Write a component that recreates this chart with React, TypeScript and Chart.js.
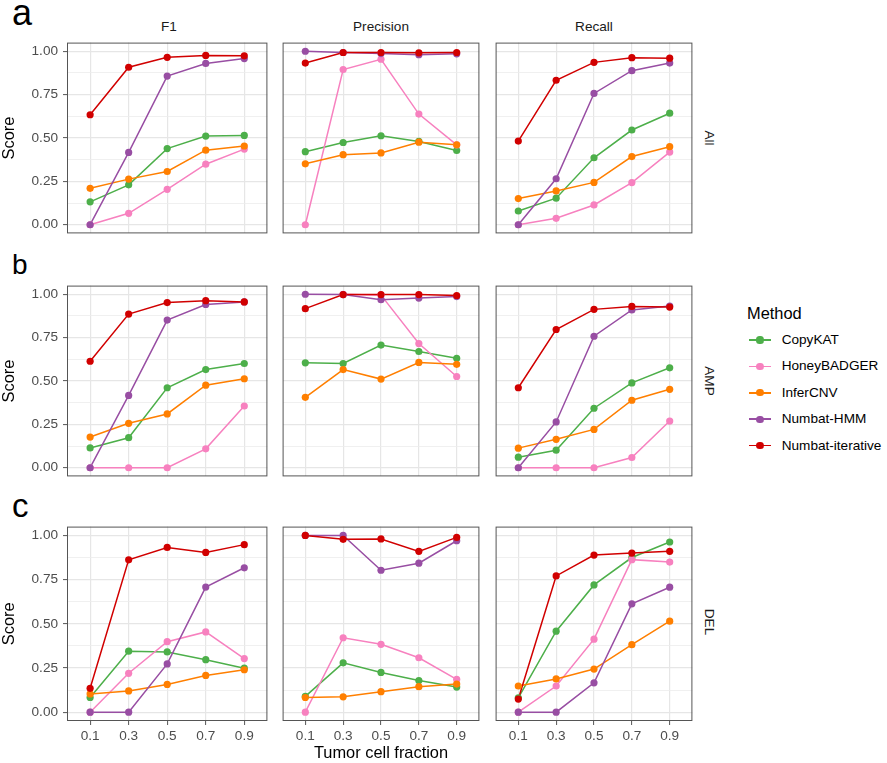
import React, { useEffect, useRef } from "react";
import { Chart, registerables } from "chart.js";

Chart.register(...registerables);

// ---------- data ----------
const fractions = [0.1, 0.3, 0.5, 0.7, 0.9];
const methods = ["CopyKAT", "HoneyBADGER", "InferCNV", "Numbat-HMM", "Numbat-iterative"];
const methodColors = ["#4DAF4A", "#F781BF", "#FF7F00", "#984EA3", "#D10000"];
const metrics = ["F1", "Precision", "Recall"];
const eventTypes = ["All", "AMP", "DEL"];
const panelLetters = ["a", "b", "c"];
const yMajorTicks = [0, 0.25, 0.5, 0.75, 1];
const yMinorTicks = [0.125, 0.375, 0.625, 0.875];

// rows of each array follow `methods`
const allF1 = [
  [0.132, 0.23, 0.439, 0.511, 0.515],
  [0, 0.066, 0.204, 0.349, 0.436],
  [0.21, 0.263, 0.307, 0.43, 0.454],
  [0, 0.417, 0.857, 0.93, 0.958],
  [0.634, 0.908, 0.965, 0.976, 0.974],
];
const allPrecision = [
  [0.421, 0.474, 0.513, 0.48, 0.428],
  [0, 0.895, 0.954, 0.638, 0.46],
  [0.351, 0.404, 0.414, 0.476, 0.461],
  [1.0, 0.993, 0.987, 0.98, 0.985],
  [0.932, 0.993, 0.993, 0.991, 0.993],
];
const allRecall = [
  [0.079, 0.153, 0.386, 0.546, 0.643],
  [0, 0.037, 0.114, 0.243, 0.419],
  [0.151, 0.195, 0.244, 0.393, 0.45],
  [0, 0.265, 0.757, 0.888, 0.932],
  [0.482, 0.833, 0.936, 0.963, 0.96],
];
const ampF1 = [
  [0.114, 0.173, 0.461, 0.566, 0.601],
  [0, 0, 0, 0.109, 0.356],
  [0.177, 0.256, 0.31, 0.476, 0.513],
  [0, 0.417, 0.851, 0.941, 0.956],
  [0.614, 0.886, 0.952, 0.963, 0.956],
];
const ampPrecision = [
  [0.605, 0.601, 0.707, 0.67, 0.631],
  [null, 1.0, 0.995, 0.716, 0.526],
  [0.406, 0.566, 0.511, 0.607, 0.596],
  [1.0, 0.998, 0.969, 0.978, 0.987],
  [0.917, 0.998, 0.998, 0.998, 0.993],
];
const ampRecall = [
  [0.061, 0.101, 0.343, 0.489, 0.576],
  [0, 0, 0, 0.059, 0.269],
  [0.113, 0.164, 0.221, 0.389, 0.452],
  [0, 0.264, 0.758, 0.91, 0.932],
  [0.461, 0.797, 0.913, 0.93, 0.926],
];
const delF1 = [
  [0.083, 0.345, 0.341, 0.297, 0.249],
  [0, 0.22, 0.399, 0.454, 0.303],
  [0.103, 0.12, 0.157, 0.208, 0.24],
  [0, 0, 0.273, 0.708, 0.817],
  [0.135, 0.862, 0.932, 0.904, 0.948],
];
const delPrecision = [
  [0.089, 0.279, 0.225, 0.179, 0.142],
  [0, 0.421, 0.384, 0.308, 0.185],
  [0.083, 0.087, 0.116, 0.144, 0.159],
  [1.0, 1.0, 0.803, 0.843, 0.97],
  [1.0, 0.978, 0.98, 0.91, 0.989],
];
const delRecall = [
  [0.081, 0.458, 0.72, 0.875, 0.963],
  [0, 0.148, 0.413, 0.863, 0.849],
  [0.148, 0.188, 0.244, 0.382, 0.515],
  [0, 0, 0.166, 0.613, 0.707],
  [0.074, 0.771, 0.889, 0.9, 0.91],
];

const panelValues = [
  [allF1, allPrecision, allRecall],
  [ampF1, ampPrecision, ampRecall],
  [delF1, delPrecision, delRecall],
];

// ---------- layout ----------
const FONT = "'Liberation Sans', Arial, Helvetica, sans-serif";
const PANEL_W = 204;
const PANEL_H = 198;
const colLefts = [67, 279, 492];
const rowTops = [39, 282, 523];
const Y_AXIS_W = 67;
const X_AXIS_H = 42;

Chart.defaults.font.family = FONT;

const isMajor = (v: number) => yMajorTicks.some((t) => Math.abs(t - v) < 1e-6);

const borderPlugin = {
  id: "panelBorder",
  afterDatasetsDraw(chart: any) {
    const { ctx, chartArea } = chart;
    ctx.save();
    ctx.strokeStyle = "#555555";
    ctx.lineWidth = 1;
    ctx.strokeRect(
      chartArea.left + 0.5,
      chartArea.top + 0.5,
      chartArea.right - chartArea.left - 1,
      chartArea.bottom - chartArea.top - 1
    );
    ctx.restore();
  },
};

function Panel({ row, col }: { row: number; col: number }) {
  const ref = useRef<HTMLCanvasElement>(null);
  const isLeft = col === 0;
  const isBottom = row === 2;
  const yW = isLeft ? Y_AXIS_W : 0;
  const xH = isBottom ? X_AXIS_H : 0;
  const width = PANEL_W + yW;
  const height = PANEL_H + xH;
  const left = colLefts[col] - yW;
  const top = rowTops[row];

  useEffect(() => {
    if (!ref.current) return;
    const values = panelValues[row][col];
    const lineSets = methods.map((m, i) => ({
      type: "line",
      label: m,
      data: fractions.map((f, j) => ({ x: f, y: values[i][j] })),
      borderColor: methodColors[i],
      backgroundColor: methodColors[i],
      borderWidth: 1.5,
      pointRadius: 0,
      pointHoverRadius: 0,
      tension: 0,
      fill: false,
      order: 10 + (4 - i),
    }));
    const pointSets = methods.map((m, i) => ({
      type: "line",
      label: m + " points",
      data: fractions.map((f, j) => ({ x: f, y: values[i][j] })),
      borderColor: methodColors[i],
      backgroundColor: methodColors[i],
      showLine: false,
      pointRadius: 3.6,
      pointHoverRadius: 3.6,
      pointBorderWidth: 0,
      pointBackgroundColor: methodColors[i],
      order: 4 - i,
    }));

    const chart = new Chart(ref.current, {
      type: "line",
      data: { datasets: [...lineSets, ...pointSets] as any },
      plugins: [borderPlugin],
      options: {
        animation: false,
        responsive: false,
        events: [],
        layout: { padding: 0 },
        plugins: { legend: { display: false }, tooltip: { enabled: false } },
        scales: {
          x: {
            type: "linear",
            min: -0.02,
            max: 1.02,
            border: { display: false },
            afterBuildTicks: (scale: any) => {
              scale.ticks = fractions.map((v) => ({ value: v }));
            },
            afterFit: (scale: any) => {
              scale.height = xH;
              scale.paddingLeft = 0;
              scale.paddingRight = 0;
              scale.paddingTop = 0;
              scale.paddingBottom = 0;
            },
            grid: {
              color: "#E6E6E6",
              lineWidth: 1.2,
              drawTicks: isBottom,
              tickLength: 4,
              tickColor: "#555555",
              tickWidth: 1,
            },
            ticks: {
              display: isBottom,
              autoSkip: false,
              maxRotation: 0,
              padding: 3,
              color: "#4D4D4D",
              font: { size: 13.6, family: FONT },
              callback: (v: any) => Number(v).toFixed(1),
            },
            title: {
              display: isBottom && col === 1,
              text: "Tumor cell fraction",
              color: "#000000",
              font: { size: 16.4, family: FONT },
              padding: { top: 0, bottom: 0 },
            },
          },
          y: {
            type: "linear",
            min: -0.05,
            max: 1.05,
            border: { display: false },
            afterBuildTicks: (scale: any) => {
              scale.ticks = [...yMajorTicks, ...yMinorTicks]
                .sort((a, b) => a - b)
                .map((v) => ({ value: v }));
            },
            afterFit: (scale: any) => {
              scale.width = yW;
              scale.paddingLeft = 0;
              scale.paddingRight = 0;
              scale.paddingTop = 0;
              scale.paddingBottom = 0;
            },
            grid: {
              color: (ctx: any) => (isMajor(ctx.tick?.value) ? "#E6E6E6" : "#ECECEC"),
              lineWidth: (ctx: any) => (isMajor(ctx.tick?.value) ? 1.2 : 0.8),
              drawTicks: isLeft,
              tickLength: 4,
              tickColor: (ctx: any) => (isMajor(ctx.tick?.value) ? "#555555" : "rgba(0,0,0,0)"),
              tickWidth: 1,
            },
            ticks: {
              display: isLeft,
              autoSkip: false,
              padding: 5,
              color: "#4D4D4D",
              font: { size: 13.6, family: FONT },
              callback: (v: any) => (isMajor(Number(v)) ? Number(v).toFixed(2) : ""),
            },
            title: {
              display: isLeft,
              text: "Score",
              color: "#000000",
              font: { size: 16.4, family: FONT },
              padding: { top: 0, bottom: 0 },
            },
          },
        },
      } as any,
    });
    return () => chart.destroy();
  }, [row, col]);

  return (
    <canvas
      ref={ref}
      width={width}
      height={height}
      style={{ position: "absolute", left, top, width, height }}
    />
  );
}

export default function App() {
  const abs = { position: "absolute" as const };
  const letterStyles = [
    { size: 36, top: -5.5 },
    { size: 28, top: 251.3 },
    { size: 33, top: 489 },
  ];
  return (
    <div
      style={{
        position: "absolute",
        left: 0,
        top: 0,
        width: 887,
        height: 763,
        background: "#ffffff",
        fontFamily: FONT,
        overflow: "hidden",
      }}
    >
      {panelLetters.map((l, r) => (
        <div
          key={l}
          style={{
            ...abs,
            left: 12,
            top: letterStyles[r].top,
            fontSize: letterStyles[r].size,
            lineHeight: 1,
            color: "#000",
          }}
        >
          {l}
        </div>
      ))}
      {metrics.map((m, c) => (
        <div
          key={m}
          style={{
            ...abs,
            left: colLefts[c],
            top: 20.3,
            width: PANEL_W,
            textAlign: "center",
            fontSize: 13.6,
            lineHeight: 1,
            color: "#1A1A1A",
          }}
        >
          {m}
        </div>
      ))}
      {eventTypes.map((e, r) => (
        <div
          key={e}
          style={{
            ...abs,
            left: 708.7 - PANEL_H / 2,
            top: rowTops[r] + PANEL_H / 2 - 7,
            width: PANEL_H,
            height: 14,
            lineHeight: "14px",
            textAlign: "center",
            fontSize: 13.6,
            color: "#1A1A1A",
            transform: "rotate(90deg)",
          }}
        >
          {e}
        </div>
      ))}
      {[0, 1, 2].map((r) =>
        [0, 1, 2].map((c) => <Panel key={`${r}-${c}`} row={r} col={c} />)
      )}
      <div style={{ ...abs, left: 747, top: 304.8, fontSize: 16.4, lineHeight: 1, color: "#000" }}>
        Method
      </div>
      {methods.map((m, i) => (
        <div key={m} style={{ ...abs, left: 749, top: 340 + i * 26.4 - 10, height: 20, width: 130 }}>
          <div
            style={{
              ...abs,
              left: 0,
              top: 9.25,
              width: 22,
              height: 1.5,
              background: methodColors[i],
            }}
          />
          <div
            style={{
              ...abs,
              left: 11 - 3.6,
              top: 10 - 3.6,
              width: 7.2,
              height: 7.2,
              borderRadius: "50%",
              background: methodColors[i],
            }}
          />
          <div
            style={{
              ...abs,
              left: 32.7,
              top: 0,
              lineHeight: "20px",
              fontSize: 13.6,
              color: "#000",
              whiteSpace: "nowrap",
            }}
          >
            {m}
          </div>
        </div>
      ))}
    </div>
  );
}
